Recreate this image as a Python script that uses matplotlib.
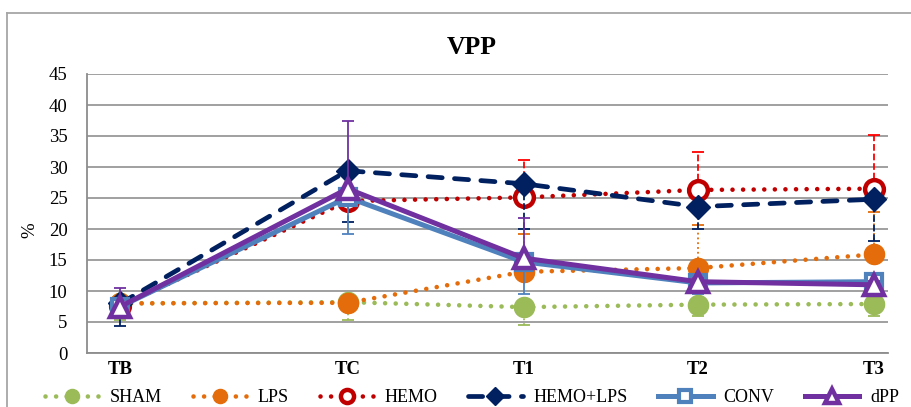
import matplotlib
matplotlib.use("Agg")
import matplotlib.pyplot as plt
from matplotlib.lines import Line2D

# Time points and their positions on the x axis
timepoints = ["TB", "TC", "T1", "T2", "T3"]
time_pos = [0.19, 1.48, 2.48, 3.47, 4.47]

# Mean VPP (%) per group
sham = [8.0, 8.2, 7.4, 7.8, 7.9]
lps = [8.0, 8.1, 13.1, 13.7, 15.9]
hemo = [7.6, 24.5, 25.1, 26.3, 26.5]
hemo_lps = [8.0, 29.4, 27.3, 23.6, 24.8]
conv = [7.5, 25.1, 14.7, 11.3, 11.5]
dpp = [7.5, 26.5, 15.3, 11.5, 11.0]

# One-sided error bars (SD)
sham_err_low = [2.6, 2.9, 2.9, 1.9, 2.0]
lps_err_up = [0.5, 0.5, 6.1, 6.9, 6.9]
hemo_err_up = [0.8, 0.6, 6.1, 6.1, 8.7]
hemo_lps_err_low = [3.6, 8.3, 7.3, 3.6, 6.7]
conv_err_low = [1.5, 5.9, 5.2, 1.8, 2.2]
dpp_err_up = [3.0, 10.9, 6.4, 0.6, 0.6]

SERIF = ["Liberation Serif", "DejaVu Serif"]
plt.rcParams["font.family"] = SERIF

fig = plt.figure(figsize=(9.12, 4.07), dpi=100)
ax = fig.add_axes([87 / 912, 54 / 407, 801 / 912, 279 / 407])

dot = (0, (0.01, 2.3))
dash = (0, (3.0, 2.6))

series = [
    dict(name="SHAM", y=sham, low=sham_err_low, up=None, color="#9BBB59",
         ls=dot, lw=3.3, marker="o", ms=14.5, mfc="#9BBB59", mec="#9BBB59", mew=1,
         ecolor="#9BBB59", els=":"),
    dict(name="LPS", y=lps, low=None, up=lps_err_up, color="#E46C0A",
         ls=dot, lw=3.3, marker="o", ms=14.5, mfc="#E46C0A", mec="#E46C0A", mew=1,
         ecolor="#E46C0A", els=":"),
    dict(name="HEMO", y=hemo, low=None, up=hemo_err_up, color="#C00000",
         ls=dot, lw=3.3, marker="o", ms=13.5, mfc="white", mec="#C00000", mew=3.2,
         ecolor="#FF0000", els="--"),
    dict(name="HEMO+LPS", y=hemo_lps, low=hemo_lps_err_low, up=None, color="#002060",
         ls=dash, lw=3.4, marker="D", ms=12.5, mfc="#002060", mec="#002060", mew=1,
         ecolor="#002060", els="--"),
    dict(name="CONV", y=conv, low=conv_err_low, up=None, color="#4F81BD",
         ls="-", lw=3.6, marker="s", ms=11.5, mfc="white", mec="#4F81BD", mew=3.0,
         ecolor="#4F81BD", els="-"),
    dict(name="dPP", y=dpp, low=None, up=dpp_err_up, color="#7030A0",
         ls="-", lw=3.6, marker="^", ms=14, mfc="white", mec="#7030A0", mew=3.2,
         ecolor="#7030A0", els="-"),
]

handles = []
for z, s in enumerate(series):
    zero = [0] * len(s["y"])
    low = s["low"] if s["low"] is not None else zero
    up = s["up"] if s["up"] is not None else zero
    eb = ax.errorbar(time_pos, s["y"], yerr=[low, up], fmt="none",
                     ecolor=s["ecolor"], elinewidth=1.3, capsize=4.5,
                     capthick=1.3, zorder=3 + 2 * z)
    for coll in eb[2]:
        coll.set_linestyle(s["els"])
    # hide caps on the zero-length side
    for cap in eb[1]:
        ydata = cap.get_ydata()
        keep = [abs(yv - yy) > 1e-9 for yv, yy in zip(ydata, s["y"])]
        cap.set_markevery([i for i, k in enumerate(keep) if k])
    line, = ax.plot(time_pos, s["y"], color=s["color"], linestyle=s["ls"],
                    linewidth=s["lw"], dash_capstyle="round",
                    marker=s["marker"], markersize=s["ms"],
                    markerfacecolor=s["mfc"], markeredgecolor=s["mec"],
                    markeredgewidth=s["mew"], label=s["name"], zorder=4 + 2 * z)
    handles.append(line)

ax.set_xlim(0, 4.55)
ax.set_ylim(0, 45)
ax.set_yticks(range(0, 46, 5))
ax.set_xticks(time_pos)
ax.set_xticklabels(timepoints, fontweight="bold", fontsize=13.5)
ax.tick_params(axis="y", labelsize=13.5, length=0, pad=14)
ax.tick_params(axis="x", length=0, pad=6)
ax.grid(axis="y", color="#999999", linewidth=1.3)
ax.set_axisbelow(True)
for side in ("top", "right"):
    ax.spines[side].set_visible(False)
for side in ("left", "bottom"):
    ax.spines[side].set_color("#8C8C8C")
    ax.spines[side].set_linewidth(1.3)

ax.set_ylabel("%", fontsize=13.5)
ax.yaxis.set_label_coords(-0.061, 0.44)

fig.text(472 / 912, 1 - 47 / 407, "VPP", ha="center", va="center",
         fontsize=18.5, fontweight="bold")

leg = fig.legend(handles=handles, loc="center", ncol=6,
                 bbox_to_anchor=(472 / 912, 1 - 398 / 407), frameon=False,
                 fontsize=13, handlelength=3.0, handletextpad=0.6,
                 columnspacing=1.7, markerscale=0.7)

# chart area border
fig.add_artist(Line2D([7 / 912, 1], [1 - 13 / 407, 1 - 13 / 407],
                      transform=fig.transFigure, color="#A6A6A6", linewidth=1.3))
fig.add_artist(Line2D([7 / 912, 7 / 912], [0, 1 - 13 / 407],
                      transform=fig.transFigure, color="#A6A6A6", linewidth=1.3))

fig.savefig("out.png", dpi=100)
